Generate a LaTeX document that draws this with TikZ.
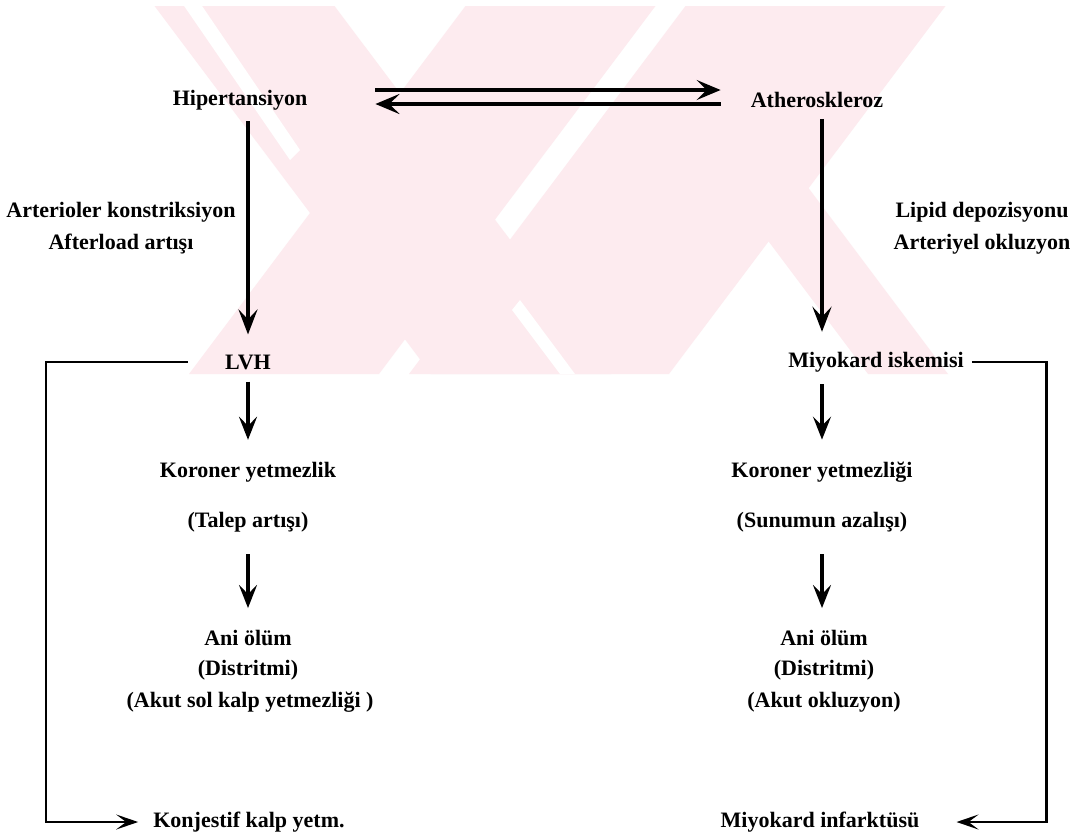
\documentclass[tikz,border=0pt]{standalone}
\usepackage{fontspec}
\setmainfont{Liberation Serif}
\usetikzlibrary{arrows.meta}
\definecolor{wm}{RGB}{253,235,239}
\tikzset{
  lbl/.style={inner sep=0pt, font=\fontsize{22}{26}\selectfont\bfseries},
  bigarr/.style={line width=3.6pt, -{Stealth[length=25pt,width=19pt,inset=10pt]}},
  harr/.style={line width=3.8pt, -{Stealth[length=24pt,width=20pt,inset=10pt]}},
  smallarr/.style={line width=3.2pt, -{Stealth[length=23pt,width=18pt,inset=9pt]}},
  brkarr/.style={line width=2.4pt, -{Stealth[length=22pt,width=15pt,inset=10pt]}}
}
\begin{document}
\begin{tikzpicture}[x=1pt,y=-1pt]
\useasboundingbox (0,0) rectangle (1087,839);
\fill[white] (0,0) rectangle (1087,839);
% watermark
\begin{scope}
\clip (0,6) rectangle (1087,374);
\fill[wm] (150,0) -- (330,0) -- (611,374) -- (431,374) -- cycle;
\fill[wm] (470,0) -- (660,0) -- (379,374) -- (189,374) -- cycle;
\fill[wm] (690,0) -- (950,0) -- (669,374) -- (409,374) -- cycle;
\fill[wm] (700,150) -- (780,150) -- (948,374) -- (868,374) -- cycle;
\fill[white] (180,0) -- (198,0) -- (300,150) -- (290,160) -- cycle;
\fill[white] (560,374) -- (575,374) -- (520,300) -- (512,310) -- cycle;
\end{scope}
% nodes
\node[lbl] (hip) at (240,100) {Hipertansiyon};
\node[lbl] (ath) at (817,100) {Atheroskleroz};
\node[lbl] (ak) at (121,212) {Arterioler konstriksiyon};
\node[lbl] (aa) at (121,244) {Afterload artışı};
\node[lbl] (ld) at (982,212) {Lipid depozisyonu};
\node[lbl] (ao) at (982,244) {Arteriyel okluzyon};
\node[lbl] (lvh) at (248,362) {LVH};
\node[lbl] (mi) at (876,362) {Miyokard iskemisi};
\node[lbl] (kor1) at (248,472) {Koroner yetmezlik};
\node[lbl] (kor2) at (822,472) {Koroner yetmezliği};
\node[lbl] (tal) at (248,522) {(Talep artışı)};
\node[lbl] (sun) at (822,522) {(Sunumun azalışı)};
\node[lbl] (ani1) at (248,638) {Ani ölüm};
\node[lbl] (ani2) at (824,638) {Ani ölüm};
\node[lbl] (dis1) at (248,670) {(Distritmi)};
\node[lbl] (dis2) at (824,670) {(Distritmi)};
\node[lbl] (akt1) at (250,702) {(Akut sol kalp yetmezliği )};
\node[lbl] (akt2) at (824,702) {(Akut okluzyon)};
\node[lbl] (kon) at (249,822) {Konjestif kalp yetm.};
\node[lbl] (mif) at (820,822) {Miyokard infarktüsü};
% connectors
\draw[harr] ([xshift=68pt,yshift=10pt]hip.east) -- ([xshift=-30pt,yshift=10pt]ath.west);
\draw[harr] ([xshift=-30pt,yshift=-4pt]ath.west) -- ([xshift=68pt,yshift=-4pt]hip.east);
\draw[bigarr, shorten <=11pt, shorten >=20pt] (hip.south -| lvh.north) -- (lvh.north);
\draw[bigarr, shorten <=11pt, shorten >=20pt] ([xshift=5pt]ath.south) -- ([xshift=5pt]ath.south |- mi.north);
\draw[smallarr, shorten <=12pt, shorten >=22pt] (lvh.south) -- (lvh.south |- kor1.north);
\draw[smallarr, shorten <=22pt, shorten >=22pt] (tal.south) -- (tal.south |- ani1.north);
\draw[smallarr, shorten <=12pt, shorten >=22pt] (mi.south -| kor2.north) -- (kor2.north);
\draw[smallarr, shorten <=22pt, shorten >=22pt] (sun.south) -- (sun.south |- ani2.north);
\draw[brkarr] ([xshift=-37pt]lvh.west) -| ([xshift=-107pt]kon.west) -- ([xshift=-15pt]kon.west);
\draw[brkarr] ([xshift=8pt]mi.east) -| ([xshift=127pt]mif.east) -- ([xshift=37pt]mif.east);
\end{tikzpicture}
\end{document}
